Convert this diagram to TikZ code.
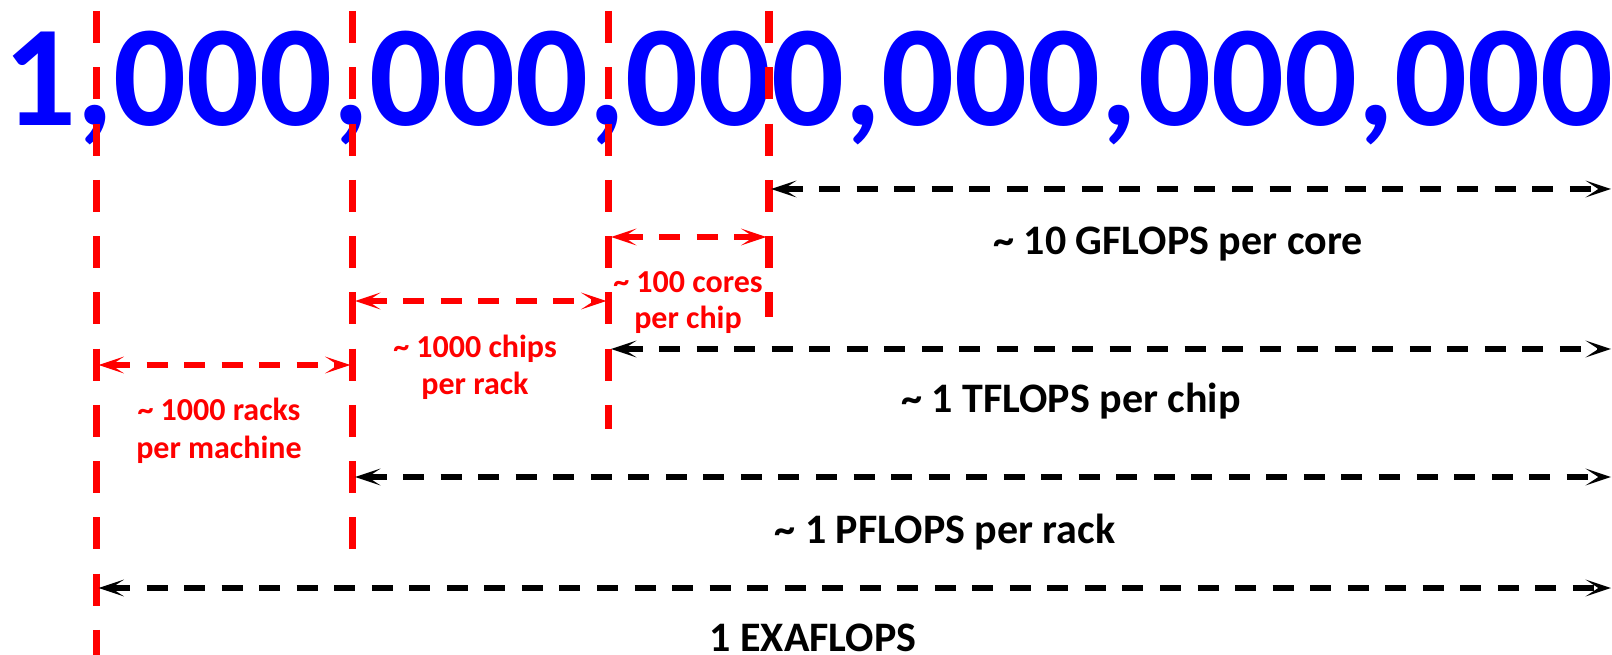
\documentclass[tikz,border=0pt]{standalone}
\usepackage{fontspec}
\setmainfont{Carlito}
\usetikzlibrary{arrows.meta}
\definecolor{myred}{RGB}{255,0,0}
\definecolor{myblue}{RGB}{0,0,255}
\begin{document}
\begin{tikzpicture}[x=0.75pt,y=-0.75pt,
  guide/.style={draw=myred,line width=5.6pt,dash pattern=on 24pt off 18.2pt},
  dimarrow/.style={line width=3.9pt,dash pattern=on 15.75pt off 12.4pt,
    {Stealth[length=19pt,width=12.5pt,inset=9.5pt]}-{Stealth[length=19pt,width=12.5pt,inset=9.5pt]}},
  redarrow/.style={dimarrow,draw=myred},
  blackarrow/.style={dimarrow,draw=black},
  blabel/.style={font=\fontsize{31.5}{38}\selectfont\bfseries,anchor=base,inner sep=0pt},
  rlabel/.style={font=\fontsize{24}{28}\selectfont\bfseries,text=myred,anchor=base,inner sep=0pt},
]
\useasboundingbox (0,0) rectangle (1612,655);
% big number
\node[anchor=base west,inner sep=0pt,text=myblue,font=\fontsize{108}{130}\selectfont\bfseries]
  (num) at (3,126) {1,000,000,000,000,000,000};
% guide lines
\coordinate (L1t) at (96.7,11);  \coordinate (L1b) at (96.7,662);
\coordinate (L2t) at (352.7,11); \coordinate (L2b) at (352.7,549);
\coordinate (L3t) at (608.6,11); \coordinate (L3b) at (608.6,429);
\coordinate (L4t) at (769,11);   \coordinate (L4b) at (769,317);
\draw[guide] (L1t) -- (L1b);
\draw[guide] (L2t) -- (L2b);
\draw[guide] (L3t) -- (L3b);
\draw[guide] (L4t) -- (L4b);
% arrow ends
\coordinate (g1) at (771,189);   \coordinate (g2) at (1611,189);
\coordinate (c1) at (611,237);   \coordinate (c2) at (766.5,237);
\coordinate (h1) at (355,301);   \coordinate (h2) at (606.5,301);
\coordinate (r1) at (98.5,365);  \coordinate (r2) at (350.5,365);
\coordinate (t1) at (611,349);   \coordinate (t2) at (1611,349);
\coordinate (p1) at (355,477);   \coordinate (p2) at (1611,477);
\coordinate (e1) at (98.5,588);  \coordinate (e2) at (1611,588);
\draw[blackarrow] (g1) -- (g2);
\draw[redarrow] (c1) -- (c2);
\draw[redarrow] (h1) -- (h2);
\draw[redarrow] (r1) -- (r2);
\draw[blackarrow] (t1) -- (t2);
\draw[blackarrow] (p1) -- (p2);
\draw[blackarrow] (e1) -- (e2);
% black labels
\node[blabel] (gflops) at (1178,255) {\textasciitilde\ 10 GFLOPS per core};
\node[blabel] (tflops) at (1071,412) {\textasciitilde\ 1 TFLOPS per chip};
\node[blabel] (pflops) at (945,543) {\textasciitilde\ 1 PFLOPS per rack};
\node[blabel] (eflops) at (813,651) {1 EXAFLOPS};
% red labels
\node[rlabel] (cores1) at (688,293) {\textasciitilde\ 100 cores};
\node[rlabel] (cores2) at (688,329) {per chip};
\node[rlabel] (chips1) at (475,358) {\textasciitilde\ 1000 chips};
\node[rlabel] (chips2) at (475,395) {per rack};
\node[rlabel] (racks1) at (219,421) {\textasciitilde\ 1000 racks};
\node[rlabel] (racks2) at (219,458) {per machine};
\end{tikzpicture}
\end{document}
